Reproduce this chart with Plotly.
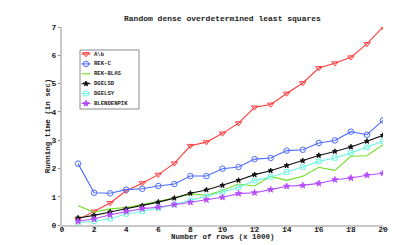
import plotly.graph_objects as go

rows = list(range(1, 21))

a_b = [0.19, 0.48, 0.78, 1.21, 1.48, 1.78, 2.18, 2.80, 2.93, 3.24, 3.60, 4.16, 4.26, 4.65, 5.02, 5.55, 5.72, 5.93, 6.40, 7.00]
rek_c = [2.17, 1.14, 1.12, 1.25, 1.28, 1.38, 1.45, 1.73, 1.73, 1.99, 2.05, 2.33, 2.37, 2.63, 2.66, 2.90, 2.99, 3.30, 3.19, 3.70]
rek_blas = [0.68, 0.45, 0.57, 0.62, 0.72, 0.84, 0.95, 1.10, 1.05, 1.22, 1.45, 1.38, 1.72, 1.58, 1.72, 2.04, 1.93, 2.43, 2.45, 2.84]
dgelsd = [0.25, 0.34, 0.46, 0.57, 0.68, 0.81, 0.95, 1.12, 1.24, 1.40, 1.58, 1.78, 1.92, 2.10, 2.27, 2.46, 2.60, 2.76, 2.96, 3.17]
dgelsy = [0.08, 0.13, 0.22, 0.39, 0.48, 0.60, 0.72, 0.87, 1.01, 1.17, 1.33, 1.57, 1.70, 1.87, 2.05, 2.25, 2.37, 2.55, 2.75, 2.96]
blendenpik = [0.13, 0.21, 0.36, 0.48, 0.58, 0.63, 0.72, 0.80, 0.89, 0.98, 1.11, 1.14, 1.25, 1.37, 1.40, 1.47, 1.60, 1.66, 1.76, 1.83]

series = [
    ("A\\b", a_b, "#ff3b3b", "triangle-down-open", 5.5),
    ("REK-C", rek_c, "#4d6bff", "circle-open", 5.5),
    ("REK-BLAS", rek_blas, "#6fe01f", None, 0),
    ("DGELSD", dgelsd, "#111111", "star", 3.8),
    ("DGELSY", dgelsy, "#6ff5e0", "square-open", 4.5),
    ("BLENDENPIK", blendenpik, "#b64dff", "star", 4.6),
]

mono = "Liberation Mono"
txt = "#222"
fig = go.Figure()
for name, vals, col, sym, sz in series:
    if sym is None:
        fig.add_trace(go.Scatter(x=rows, y=vals, name=name, mode="lines",
                                 line=dict(color=col, width=1.1), showlegend=False))
    else:
        fig.add_trace(go.Scatter(x=rows, y=vals, name=name, mode="lines+markers",
                                 line=dict(color=col, width=1.1), showlegend=False,
                                 marker=dict(symbol=sym, size=sz, color=col,
                                             line=dict(color=col, width=1))))

# Custom compact legend on an overlay axis measured in pixels of the plot area
L, R, T, B = 54, 375, 19, 217
box = dict(x0=72, x1=131, y0=42, y1=101)
shapes = [dict(type="rect", xref="x2", yref="y2", **box,
               line=dict(color="#8a8a8a", width=1), fillcolor="white", layer="below")]
annotations = []
for i, (name, vals, col, sym, sz) in enumerate(series):
    yc = 46 + i * 9.9
    shapes.append(dict(type="line", xref="x2", yref="y2", x0=73.5, x1=82.5, y0=yc, y1=yc,
                       line=dict(color=col, width=1.1), layer="below"))
    if sym is not None:
        fig.add_trace(go.Scatter(x=[78], y=[yc], xaxis="x2", yaxis="y2", mode="markers",
                                 showlegend=False, hoverinfo="skip",
                                 marker=dict(symbol=sym, size=sz, color=col,
                                             line=dict(color=col, width=1))))
    annotations.append(dict(xref="x2", yref="y2", x=84, y=yc, text=name, showarrow=False,
                            xanchor="left", yanchor="middle",
                            font=dict(family=mono, size=5.6, color=txt, weight="bold")))

annotations.append(dict(xref="paper", yref="paper", x=0.5, y=-(229 - B) / (B - T),
                        yanchor="middle", text="Number of rows (x 1000)", showarrow=False,
                        font=dict(family=mono, size=7.5, color=txt, weight="bold")))
annotations.append(dict(xref="paper", yref="paper", x=0.5, y=(B - 10.3) / (B - T),
                        yanchor="middle", text="Random dense overdetermined least squares",
                        showarrow=False,
                        font=dict(family=mono, size=8, color=txt, weight="bold")))

fig.update_layout(
    width=415, height=245,
    margin=dict(l=L, r=415 - R, t=T, b=245 - B),
    plot_bgcolor="white", paper_bgcolor="white",
    xaxis=dict(range=[0, 20], tickvals=[0, 2, 4, 6, 8, 10, 12, 14, 16, 18, 20],
               showgrid=False, zeroline=False, showline=True, linecolor="#c8c8c8", linewidth=2,
               ticks="outside", ticklen=2, tickcolor="#888", ticklabelstandoff=-7,
               tickfont=dict(family=mono, size=8, color=txt, weight="bold")),
    yaxis=dict(range=[0, 7], tickvals=[0, 1, 2, 3, 4, 5, 6, 7],
               showgrid=False, zeroline=False, showline=True, linecolor="#c8c8c8", linewidth=2,
               ticks="outside", ticklen=2, tickcolor="#888",
               tickfont=dict(family=mono, size=8, color=txt, weight="bold"),
               title=dict(text="Running time (in sec)", standoff=0,
                          font=dict(family=mono, size=7.5, color=txt, weight="bold"))),
    xaxis2=dict(range=[L, R], overlaying="x", visible=False, fixedrange=True),
    yaxis2=dict(range=[B, T], overlaying="y", visible=False, fixedrange=True),
    shapes=shapes,
    annotations=annotations,
    showlegend=False,
)

fig.write_html("out.html")
